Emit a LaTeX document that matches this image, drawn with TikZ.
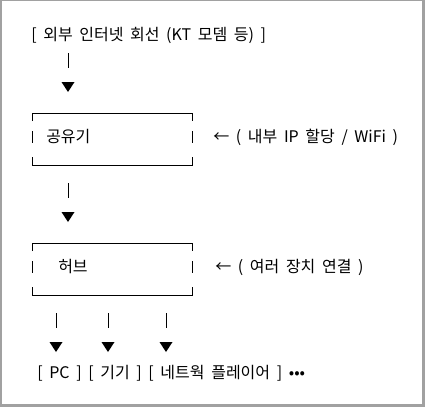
\documentclass[tikz,border=0pt]{standalone}
\usepackage{fontspec}
\setmainfont{Noto Sans CJK KR}[WordSpace=1.85]
\begin{document}
\begin{tikzpicture}[x=0.75pt,y=-0.75pt,
  txt/.style={font=\fontsize{12pt}{14pt}\selectfont, inner sep=0pt, anchor=west, text=black},
  bar/.style={line width=0.6pt, black},
  boxline/.style={line width=0.75pt, black},
  down/.pic={\draw[bar] (0,0) -- (0,15); \fill[black] (-6.5,29) -- (6.5,29) -- (0,39) -- cycle;},
  asciibox/.pic={
    \draw[boxline] (0,8) -- (0,0) -- (160,0) -- (160,8);
    \draw[boxline] (0,44) -- (0,52) -- (160,52) -- (160,44);
    \draw[bar] (0,18) -- (0,30);
    \draw[bar] (160,18) -- (160,30);}]
\fill[black!37] (0,0) rectangle (425,407);
\fill[white] (2,1) rectangle (422.3,404.3);
\useasboundingbox (0,0) rectangle (425,407);

\node[txt] (ext) at (31,35) {[ 외부 인터넷 회선 (KT 모뎀 등) ]};
\pic at (68,53) {down};

\pic (rbox) at (32,113) {asciibox};
\node[txt] (router) at (46,137) {공유기};
\node[txt] (rnote) at (213,137) {← ( 내부 IP 할당 / WiFi )};

\pic at (68,183) {down};

\pic (hbox) at (32,243) {asciibox};
\node[txt] (hub) at (58,267) {허브};
\node[txt] (hnote) at (215,267) {← ( 여러 장치 연결 )};

\pic at (56,313) {down};
\pic at (108,313) {down};
\pic at (166,313) {down};

\node[txt] (devs) at (37,373) {[ PC ] [ 기기 ] [ 네트웍 플레이어 ] •••};
\end{tikzpicture}
\end{document}
